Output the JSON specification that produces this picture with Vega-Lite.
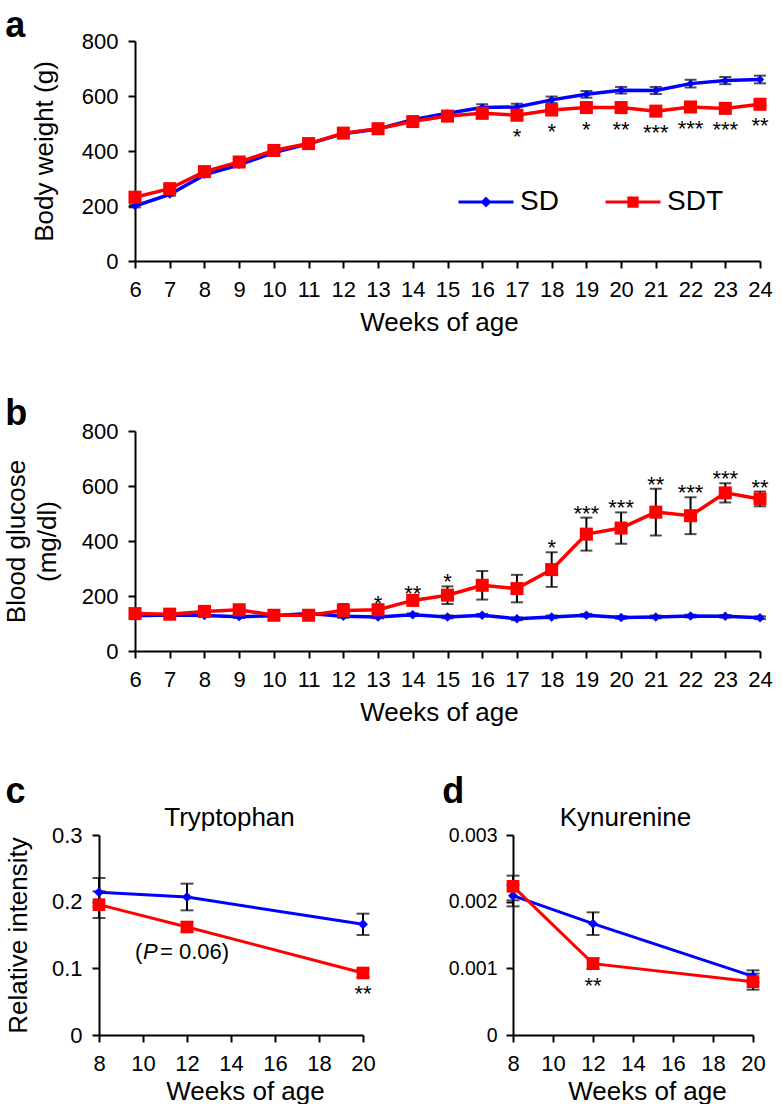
{
  "$schema": "https://vega.github.io/schema/vega-lite/v6.json",
  "padding": {"left": 3, "top": 8, "right": 0, "bottom": 0},
  "background": "white",
  "config": {
    "font": "Liberation Sans",
    "view": {"stroke": null},
    "axis": {"domainColor": "black", "domainWidth": 2, "tickColor": "black", "tickWidth": 2, "tickSize": 7, "labelFontSize": 22, "labelColor": "black", "labelFont": "Liberation Sans", "titleFont": "Liberation Sans", "titleFontSize": 26, "titleFontWeight": "normal", "titleColor": "black", "grid": false, "labelPadding": 10, "labelFlush": false, "labelOverlap": false},
    "axisY": {"titlePadding": 20},
    "axisX": {"titlePadding": 9, "labelPadding": 11},
    "title": {"fontSize": 36, "fontWeight": "bold", "color": "black", "font": "Liberation Sans"},
    "text": {"font": "Liberation Sans", "color": "black"}
  },
  "datasets": {
    "bw": [
      {"week": 6, "group": "SD", "value": 200, "lo": 195, "hi": 205, "sig": ""},
      {"week": 7, "group": "SD", "value": 242, "lo": 237, "hi": 247, "sig": ""},
      {"week": 8, "group": "SD", "value": 313, "lo": 308, "hi": 318, "sig": ""},
      {"week": 9, "group": "SD", "value": 350, "lo": 345, "hi": 355, "sig": ""},
      {"week": 10, "group": "SD", "value": 394, "lo": 389, "hi": 399, "sig": ""},
      {"week": 11, "group": "SD", "value": 426, "lo": 421, "hi": 431, "sig": ""},
      {"week": 12, "group": "SD", "value": 463, "lo": 457, "hi": 469, "sig": ""},
      {"week": 13, "group": "SD", "value": 480, "lo": 474, "hi": 486, "sig": ""},
      {"week": 14, "group": "SD", "value": 514, "lo": 507, "hi": 521, "sig": ""},
      {"week": 15, "group": "SD", "value": 537, "lo": 529, "hi": 545, "sig": ""},
      {"week": 16, "group": "SD", "value": 558, "lo": 546, "hi": 570, "sig": ""},
      {"week": 17, "group": "SD", "value": 560, "lo": 548, "hi": 572, "sig": ""},
      {"week": 18, "group": "SD", "value": 586, "lo": 574, "hi": 598, "sig": ""},
      {"week": 19, "group": "SD", "value": 606, "lo": 594, "hi": 618, "sig": ""},
      {"week": 20, "group": "SD", "value": 621, "lo": 609, "hi": 633, "sig": ""},
      {"week": 21, "group": "SD", "value": 620, "lo": 607, "hi": 633, "sig": ""},
      {"week": 22, "group": "SD", "value": 645, "lo": 631, "hi": 659, "sig": ""},
      {"week": 23, "group": "SD", "value": 656, "lo": 643, "hi": 669, "sig": ""},
      {"week": 24, "group": "SD", "value": 660, "lo": 646, "hi": 674, "sig": ""},
      {"week": 6, "group": "SDT", "value": 232, "lo": 225, "hi": 239, "sig": ""},
      {"week": 7, "group": "SDT", "value": 263, "lo": 256, "hi": 270, "sig": ""},
      {"week": 8, "group": "SDT", "value": 325, "lo": 318, "hi": 332, "sig": ""},
      {"week": 9, "group": "SDT", "value": 360, "lo": 353, "hi": 367, "sig": ""},
      {"week": 10, "group": "SDT", "value": 402, "lo": 395, "hi": 409, "sig": ""},
      {"week": 11, "group": "SDT", "value": 427, "lo": 420, "hi": 434, "sig": ""},
      {"week": 12, "group": "SDT", "value": 465, "lo": 458, "hi": 472, "sig": ""},
      {"week": 13, "group": "SDT", "value": 481, "lo": 474, "hi": 488, "sig": ""},
      {"week": 14, "group": "SDT", "value": 507, "lo": 499, "hi": 515, "sig": ""},
      {"week": 15, "group": "SDT", "value": 527, "lo": 519, "hi": 535, "sig": ""},
      {"week": 16, "group": "SDT", "value": 537, "lo": 529, "hi": 545, "sig": ""},
      {"week": 17, "group": "SDT", "value": 530, "lo": 521, "hi": 539, "sig": "*"},
      {"week": 18, "group": "SDT", "value": 549, "lo": 540, "hi": 558, "sig": "*"},
      {"week": 19, "group": "SDT", "value": 558, "lo": 549, "hi": 567, "sig": "*"},
      {"week": 20, "group": "SDT", "value": 558, "lo": 549, "hi": 567, "sig": "**"},
      {"week": 21, "group": "SDT", "value": 545, "lo": 536, "hi": 554, "sig": "***"},
      {"week": 22, "group": "SDT", "value": 560, "lo": 551, "hi": 569, "sig": "***"},
      {"week": 23, "group": "SDT", "value": 555, "lo": 546, "hi": 564, "sig": "***"},
      {"week": 24, "group": "SDT", "value": 570, "lo": 561, "hi": 579, "sig": "**"}
    ],
    "bg": [
      {"week": 6, "group": "SD", "value": 128, "lo": 123, "hi": 133, "sig": ""},
      {"week": 7, "group": "SD", "value": 131, "lo": 126, "hi": 136, "sig": ""},
      {"week": 8, "group": "SD", "value": 129, "lo": 124, "hi": 134, "sig": ""},
      {"week": 9, "group": "SD", "value": 125, "lo": 120, "hi": 130, "sig": ""},
      {"week": 10, "group": "SD", "value": 128, "lo": 123, "hi": 133, "sig": ""},
      {"week": 11, "group": "SD", "value": 136, "lo": 131, "hi": 141, "sig": ""},
      {"week": 12, "group": "SD", "value": 126, "lo": 121, "hi": 131, "sig": ""},
      {"week": 13, "group": "SD", "value": 124, "lo": 119, "hi": 129, "sig": ""},
      {"week": 14, "group": "SD", "value": 132, "lo": 127, "hi": 137, "sig": ""},
      {"week": 15, "group": "SD", "value": 124, "lo": 119, "hi": 129, "sig": ""},
      {"week": 16, "group": "SD", "value": 130, "lo": 125, "hi": 135, "sig": ""},
      {"week": 17, "group": "SD", "value": 117, "lo": 112, "hi": 122, "sig": ""},
      {"week": 18, "group": "SD", "value": 124, "lo": 119, "hi": 129, "sig": ""},
      {"week": 19, "group": "SD", "value": 130, "lo": 125, "hi": 135, "sig": ""},
      {"week": 20, "group": "SD", "value": 122, "lo": 117, "hi": 127, "sig": ""},
      {"week": 21, "group": "SD", "value": 124, "lo": 119, "hi": 129, "sig": ""},
      {"week": 22, "group": "SD", "value": 127, "lo": 122, "hi": 132, "sig": ""},
      {"week": 23, "group": "SD", "value": 126, "lo": 121, "hi": 131, "sig": ""},
      {"week": 24, "group": "SD", "value": 121, "lo": 116, "hi": 126, "sig": ""},
      {"week": 6, "group": "SDT", "value": 136, "lo": 130, "hi": 142, "sig": ""},
      {"week": 7, "group": "SDT", "value": 134, "lo": 129, "hi": 139, "sig": ""},
      {"week": 8, "group": "SDT", "value": 144, "lo": 138, "hi": 150, "sig": ""},
      {"week": 9, "group": "SDT", "value": 150, "lo": 144, "hi": 156, "sig": ""},
      {"week": 10, "group": "SDT", "value": 130, "lo": 125, "hi": 135, "sig": ""},
      {"week": 11, "group": "SDT", "value": 130, "lo": 125, "hi": 135, "sig": ""},
      {"week": 12, "group": "SDT", "value": 147, "lo": 123, "hi": 171, "sig": ""},
      {"week": 13, "group": "SDT", "value": 150, "lo": 142, "hi": 158, "sig": "*"},
      {"week": 14, "group": "SDT", "value": 184, "lo": 174, "hi": 194, "sig": "**"},
      {"week": 15, "group": "SDT", "value": 203, "lo": 171, "hi": 235, "sig": "*"},
      {"week": 16, "group": "SDT", "value": 239, "lo": 187, "hi": 291, "sig": ""},
      {"week": 17, "group": "SDT", "value": 227, "lo": 177, "hi": 277, "sig": ""},
      {"week": 18, "group": "SDT", "value": 296, "lo": 233, "hi": 359, "sig": "*"},
      {"week": 19, "group": "SDT", "value": 425, "lo": 365, "hi": 485, "sig": "***"},
      {"week": 20, "group": "SDT", "value": 447, "lo": 390, "hi": 504, "sig": "***"},
      {"week": 21, "group": "SDT", "value": 505, "lo": 420, "hi": 590, "sig": "**"},
      {"week": 22, "group": "SDT", "value": 492, "lo": 425, "hi": 559, "sig": "***"},
      {"week": 23, "group": "SDT", "value": 575, "lo": 540, "hi": 610, "sig": "***"},
      {"week": 24, "group": "SDT", "value": 553, "lo": 526, "hi": 580, "sig": "**"}
    ],
    "trp": [
      {"week": 8, "group": "SD", "value": 0.214, "lo": 0.1925, "hi": 0.2355, "sig": ""},
      {"week": 12, "group": "SD", "value": 0.207, "lo": 0.187, "hi": 0.227, "sig": ""},
      {"week": 20, "group": "SD", "value": 0.166, "lo": 0.150, "hi": 0.182, "sig": ""},
      {"week": 8, "group": "SDT", "value": 0.1955, "lo": 0.1755, "hi": 0.2155, "sig": ""},
      {"week": 12, "group": "SDT", "value": 0.162, "lo": 0.155, "hi": 0.169, "sig": ""},
      {"week": 20, "group": "SDT", "value": 0.093, "lo": 0.087, "hi": 0.099, "sig": "**"}
    ],
    "trp_note": [
      {"week": 12, "value": 0.162, "t1": "(", "t2": "P", "t3": "= 0.06)"}
    ],
    "kyn": [
      {"week": 8, "group": "SD", "value": 0.00209, "lo": 0.00193, "hi": 0.00225, "sig": ""},
      {"week": 12, "group": "SD", "value": 0.00167, "lo": 0.0015, "hi": 0.00184, "sig": ""},
      {"week": 20, "group": "SD", "value": 0.00088, "lo": 0.00079, "hi": 0.00097, "sig": ""},
      {"week": 8, "group": "SDT", "value": 0.00223, "lo": 0.00202, "hi": 0.00239, "sig": ""},
      {"week": 12, "group": "SDT", "value": 0.00107, "lo": 0.00099, "hi": 0.00115, "sig": "**"},
      {"week": 20, "group": "SDT", "value": 0.0008, "lo": 0.00068, "hi": 0.00092, "sig": ""}
    ]
  },
  "spacing": 49,
  "vconcat": [
    {
      "spacing": 61,
      "vconcat": [
        {
          "title": {"text": "a", "anchor": "start", "frame": "bounds", "dx": -26, "offset": -15},
          "width": 661,
          "height": 220,
          "data": {"name": "bw"},
          "layer": [
            {
              "mark": {"type": "errorbar", "ticks": true, "size": 12, "thickness": 2, "color": "black"},
              "encoding": {
                "x": {"field": "week", "type": "quantitative", "title": "Weeks of age", "scale": {"domain": [6, 24], "range": [36, 661], "nice": false, "zero": false}, "axis": {"values": [6,7,8,9,10,11,12,13,14,15,16,17,18,19,20,21,22,23,24], "titleX": 340, "labelOverlap": false}},
                "y": {"field": "lo", "type": "quantitative", "title": "Body weight (g)", "scale": {"domain": [0, 800], "nice": false}, "axis": {"values": [0, 200, 400, 600, 800], "offset": -36, "titlePadding": 24}},
                "y2": {"field": "hi"}
              }
            },
            {
              "mark": {"type": "line", "strokeWidth": 3.5},
              "encoding": {
                "x": {"field": "week", "type": "quantitative", "title": "Weeks of age", "axis": {"values": [6,7,8,9,10,11,12,13,14,15,16,17,18,19,20,21,22,23,24], "titleX": 340, "labelOverlap": false}},
                "y": {"field": "value", "type": "quantitative", "title": "Body weight (g)", "axis": {"values": [0, 200, 400, 600, 800], "offset": -36, "titlePadding": 24}},
                "detail": {"field": "group"},
                "color": {"condition": {"test": "datum.group === 'SD'", "value": "#0000ff"}, "value": "#ff0000"}
              }
            },
            {
              "mark": {"type": "point", "filled": true, "opacity": 1},
              "encoding": {
                "x": {"field": "week", "type": "quantitative", "title": "Weeks of age", "axis": {"values": [6,7,8,9,10,11,12,13,14,15,16,17,18,19,20,21,22,23,24], "titleX": 340, "labelOverlap": false}},
                "y": {"field": "value", "type": "quantitative", "title": "Body weight (g)", "axis": {"values": [0, 200, 400, 600, 800], "offset": -36, "titlePadding": 24}},
                "color": {"condition": {"test": "datum.group === 'SD'", "value": "#0000ff"}, "value": "#ff0000"},
                "shape": {"condition": {"test": "datum.group === 'SD'", "value": "diamond"}, "value": "square"},
                "size": {"condition": {"test": "datum.group === 'SD'", "value": 70}, "value": 170}
              }
            },
            {
              "transform": [{"filter": "datum.sig !== ''"}],
              "mark": {"type": "text", "fontSize": 22, "dy": 29, "baseline": "alphabetic"},
              "encoding": {
                "x": {"field": "week", "type": "quantitative", "title": "Weeks of age", "axis": {"values": [6,7,8,9,10,11,12,13,14,15,16,17,18,19,20,21,22,23,24], "titleX": 340, "labelOverlap": false}},
                "y": {"field": "value", "type": "quantitative", "title": "Body weight (g)", "axis": {"values": [0, 200, 400, 600, 800], "offset": -36, "titlePadding": 24}},
                "text": {"field": "sig"}
              }
            },
            {
              "mark": {"type": "point", "filled": true, "opacity": 0},
              "encoding": {
                "x": {"field": "week", "type": "quantitative", "title": "Weeks of age", "axis": {"values": [6,7,8,9,10,11,12,13,14,15,16,17,18,19,20,21,22,23,24], "titleX": 340, "labelOverlap": false}},
                "y": {"field": "value", "type": "quantitative", "title": "Body weight (g)", "axis": {"values": [0, 200, 400, 600, 800], "offset": -36, "titlePadding": 24}},
                "color": {"field": "group", "type": "nominal", "scale": {"domain": ["SD", "SDT"], "range": ["#0000ff", "#ff0000"]}, "legend": {"title": null, "orient": "none", "legendX": 358, "legendY": 132, "direction": "horizontal", "symbolSize": 3025, "symbolStrokeWidth": 3, "symbolOpacity": 1, "labelFontSize": 28, "labelColor": "black", "labelOffset": 5, "columnPadding": 40}},
                "stroke": {"field": "group", "type": "nominal", "scale": {"domain": ["SD", "SDT"], "range": ["#0000ff", "#ff0000"]}, "legend": {"title": null, "orient": "none", "legendX": 358, "legendY": 132, "direction": "horizontal", "symbolSize": 3025, "symbolStrokeWidth": 3, "symbolOpacity": 1, "labelFontSize": 28, "labelColor": "black", "labelOffset": 5, "columnPadding": 40}},
                "shape": {"field": "group", "type": "nominal", "scale": {"domain": ["SD", "SDT"], "range": ["M-1,0H1M0,-0.12L0.12,0L0,0.12L-0.12,0Z", "M-1,0H1M-0.15,-0.15H0.15V0.15H-0.15Z"]}, "legend": {"title": null, "orient": "none", "legendX": 358, "legendY": 132, "direction": "horizontal", "symbolSize": 3025, "symbolStrokeWidth": 3, "symbolOpacity": 1, "labelFontSize": 28, "labelColor": "black", "labelOffset": 5, "columnPadding": 40}}
              }
            }
          ]
        },
        {
          "title": {"text": "b", "anchor": "start", "frame": "bounds", "dx": 2, "offset": -13},
          "width": 661,
          "height": 220,
          "data": {"name": "bg"},
          "layer": [
            {
              "mark": {"type": "errorbar", "ticks": true, "size": 12, "thickness": 2, "color": "black"},
              "encoding": {
                "x": {"field": "week", "type": "quantitative", "title": "Weeks of age", "scale": {"domain": [6, 24], "range": [36, 661], "nice": false, "zero": false}, "axis": {"values": [6,7,8,9,10,11,12,13,14,15,16,17,18,19,20,21,22,23,24], "titleX": 340, "labelOverlap": false}},
                "y": {"field": "lo", "type": "quantitative", "title": ["Blood glucose", "(mg/dl)"], "scale": {"domain": [0, 800], "nice": false}, "axis": {"values": [0, 200, 400, 600, 800], "offset": -36, "titlePadding": 21, "titleLineHeight": 31}},
                "y2": {"field": "hi"}
              }
            },
            {
              "mark": {"type": "line", "strokeWidth": 3.5},
              "encoding": {
                "x": {"field": "week", "type": "quantitative", "title": "Weeks of age", "axis": {"values": [6,7,8,9,10,11,12,13,14,15,16,17,18,19,20,21,22,23,24], "titleX": 340, "labelOverlap": false}},
                "y": {"field": "value", "type": "quantitative", "title": ["Blood glucose", "(mg/dl)"], "axis": {"values": [0, 200, 400, 600, 800], "offset": -36, "titlePadding": 21, "titleLineHeight": 31}},
                "color": {"field": "group", "type": "nominal", "scale": {"domain": ["SD", "SDT"], "range": ["#0000ff", "#ff0000"]}, "legend": null}
              }
            },
            {
              "mark": {"type": "point", "filled": true, "opacity": 1},
              "encoding": {
                "x": {"field": "week", "type": "quantitative", "title": "Weeks of age", "axis": {"values": [6,7,8,9,10,11,12,13,14,15,16,17,18,19,20,21,22,23,24], "titleX": 340, "labelOverlap": false}},
                "y": {"field": "value", "type": "quantitative", "title": ["Blood glucose", "(mg/dl)"], "axis": {"values": [0, 200, 400, 600, 800], "offset": -36, "titlePadding": 21, "titleLineHeight": 31}},
                "color": {"field": "group", "type": "nominal", "legend": null},
                "shape": {"condition": {"test": "datum.group === 'SD'", "value": "diamond"}, "value": "square"},
                "size": {"condition": {"test": "datum.group === 'SD'", "value": 90}, "value": 170}
              }
            },
            {
              "transform": [{"filter": "datum.sig !== ''"}],
              "mark": {"type": "text", "fontSize": 22, "dy": 3, "baseline": "alphabetic"},
              "encoding": {
                "x": {"field": "week", "type": "quantitative", "title": "Weeks of age", "axis": {"values": [6,7,8,9,10,11,12,13,14,15,16,17,18,19,20,21,22,23,24], "titleX": 340, "labelOverlap": false}},
                "y": {"field": "hi", "type": "quantitative", "title": ["Blood glucose", "(mg/dl)"], "axis": {"values": [0, 200, 400, 600, 800], "offset": -36, "titlePadding": 21, "titleLineHeight": 31}},
                "text": {"field": "sig"}
              }
            }
          ]
        }
      ]
    },
    {
      "spacing": 66,
      "hconcat": [
        {
          "title": {"text": "c", "anchor": "start", "frame": "bounds", "offset": -7},
          "width": 264,
          "height": 200,
          "resolve": {"axis": {"x": "independent"}},
          "layer": [
            {
              "data": {"name": "trp"},
              "mark": {"type": "errorbar", "ticks": true, "size": 13, "thickness": 2, "color": "black"},
              "encoding": {
                "x": {"field": "week", "type": "quantitative", "scale": {"domain": [8, 20], "nice": false, "zero": false}, "axis": null},
                "y": {"field": "lo", "type": "quantitative", "title": "Relative intensity", "scale": {"domain": [0, 0.3], "nice": false}, "axis": {"values": [0, 0.1, 0.2, 0.3], "labelExpr": "datum.value === 0 ? '0' : format(datum.value, '.1f')"}},
                "y2": {"field": "hi"}
              }
            },
            {
              "data": {"name": "trp"},
              "mark": {"type": "line", "strokeWidth": 3},
              "encoding": {
                "x": {"field": "week", "type": "quantitative", "title": "Weeks of age", "axis": {"orient": "bottom", "values": [8, 10, 12, 14, 16, 18, 20], "titleX": 146, "titlePadding": 4, "labelOverlap": false}},
                "y": {"field": "value", "type": "quantitative", "title": "Relative intensity", "axis": {"values": [0, 0.1, 0.2, 0.3], "labelExpr": "datum.value === 0 ? '0' : format(datum.value, '.1f')"}},
                "color": {"field": "group", "type": "nominal", "scale": {"domain": ["SD", "SDT"], "range": ["#0000ff", "#ff0000"]}, "legend": null}
              }
            },
            {
              "data": {"name": "trp"},
              "mark": {"type": "point", "filled": true, "opacity": 1},
              "encoding": {
                "x": {"field": "week", "type": "quantitative", "axis": null},
                "y": {"field": "value", "type": "quantitative", "title": "Relative intensity", "axis": {"values": [0, 0.1, 0.2, 0.3], "labelExpr": "datum.value === 0 ? '0' : format(datum.value, '.1f')"}},
                "color": {"field": "group", "type": "nominal", "legend": null},
                "shape": {"condition": {"test": "datum.group === 'SD'", "value": "diamond"}, "value": "square"},
                "size": {"condition": {"test": "datum.group === 'SD'", "value": 100}, "value": 160}
              }
            },
            {
              "data": {"name": "trp"},
              "transform": [{"filter": "datum.sig !== ''"}],
              "mark": {"type": "text", "fontSize": 22, "dy": 28, "baseline": "alphabetic"},
              "encoding": {
                "x": {"field": "week", "type": "quantitative", "title": "Tryptophan", "axis": {"orient": "top", "labels": false, "ticks": false, "domain": false, "titlePadding": 5, "titleX": 130}},
                "y": {"field": "value", "type": "quantitative", "title": "Relative intensity", "axis": {"values": [0, 0.1, 0.2, 0.3], "labelExpr": "datum.value === 0 ? '0' : format(datum.value, '.1f')"}},
                "text": {"field": "sig"}
              }
            },
            {
              "data": {"name": "trp_note"},
              "mark": {"type": "text", "fontSize": 22, "dy": 25, "dx": -52, "align": "left", "baseline": "middle"},
              "encoding": {
                "x": {"field": "week", "type": "quantitative", "axis": null},
                "y": {"field": "value", "type": "quantitative", "title": "Relative intensity", "axis": {"values": [0, 0.1, 0.2, 0.3], "labelExpr": "datum.value === 0 ? '0' : format(datum.value, '.1f')"}},
                "text": {"field": "t1"}
              }
            },
            {
              "data": {"name": "trp_note"},
              "mark": {"type": "text", "fontSize": 22, "fontStyle": "italic", "dy": 25, "dx": -44, "align": "left", "baseline": "middle"},
              "encoding": {
                "x": {"field": "week", "type": "quantitative", "axis": null},
                "y": {"field": "value", "type": "quantitative", "title": "Relative intensity", "axis": {"values": [0, 0.1, 0.2, 0.3], "labelExpr": "datum.value === 0 ? '0' : format(datum.value, '.1f')"}},
                "text": {"field": "t2"}
              }
            },
            {
              "data": {"name": "trp_note"},
              "mark": {"type": "text", "fontSize": 22, "dy": 25, "dx": -27, "align": "left", "baseline": "middle"},
              "encoding": {
                "x": {"field": "week", "type": "quantitative", "axis": null},
                "y": {"field": "value", "type": "quantitative", "title": "Relative intensity", "axis": {"values": [0, 0.1, 0.2, 0.3], "labelExpr": "datum.value === 0 ? '0' : format(datum.value, '.1f')"}},
                "text": {"field": "t3"}
              }
            }
          ]
        },
        {
          "title": {"text": "d", "anchor": "start", "frame": "bounds", "dx": -6, "offset": -7},
          "width": 240,
          "height": 200,
          "data": {"name": "kyn"},
          "resolve": {"axis": {"x": "independent"}},
          "layer": [
            {
              "mark": {"type": "errorbar", "ticks": true, "size": 13, "thickness": 2, "color": "black"},
              "encoding": {
                "x": {"field": "week", "type": "quantitative", "scale": {"domain": [8, 20], "nice": false, "zero": false}, "axis": null},
                "y": {"field": "lo", "type": "quantitative", "title": null, "scale": {"domain": [0, 0.003], "nice": false}, "axis": {"values": [0, 0.001, 0.002, 0.003], "labelFontSize": 19.5, "labelPadding": 9, "labelExpr": "datum.value === 0 ? '0' : format(datum.value, '.3f')"}},
                "y2": {"field": "hi"}
              }
            },
            {
              "mark": {"type": "line", "strokeWidth": 3},
              "encoding": {
                "x": {"field": "week", "type": "quantitative", "title": "Weeks of age", "axis": {"orient": "bottom", "values": [8, 10, 12, 14, 16, 18, 20], "titleX": 134, "titlePadding": 4, "labelOverlap": false}},
                "y": {"field": "value", "type": "quantitative", "title": null, "axis": {"values": [0, 0.001, 0.002, 0.003], "labelFontSize": 19.5, "labelPadding": 9, "labelExpr": "datum.value === 0 ? '0' : format(datum.value, '.3f')"}},
                "color": {"field": "group", "type": "nominal", "scale": {"domain": ["SD", "SDT"], "range": ["#0000ff", "#ff0000"]}, "legend": null}
              }
            },
            {
              "mark": {"type": "point", "filled": true, "opacity": 1},
              "encoding": {
                "x": {"field": "week", "type": "quantitative", "axis": null},
                "y": {"field": "value", "type": "quantitative", "title": null, "axis": {"values": [0, 0.001, 0.002, 0.003], "labelFontSize": 19.5, "labelPadding": 9, "labelExpr": "datum.value === 0 ? '0' : format(datum.value, '.3f')"}},
                "color": {"field": "group", "type": "nominal", "legend": null},
                "shape": {"condition": {"test": "datum.group === 'SD'", "value": "diamond"}, "value": "square"},
                "size": {"condition": {"test": "datum.group === 'SD'", "value": 100}, "value": 160}
              }
            },
            {
              "transform": [{"filter": "datum.sig !== ''"}],
              "mark": {"type": "text", "fontSize": 22, "dy": 29, "baseline": "alphabetic"},
              "encoding": {
                "x": {"field": "week", "type": "quantitative", "title": "Kynurenine", "axis": {"orient": "top", "labels": false, "ticks": false, "domain": false, "titlePadding": 5, "titleX": 112}},
                "y": {"field": "value", "type": "quantitative", "title": null, "axis": {"values": [0, 0.001, 0.002, 0.003], "labelFontSize": 19.5, "labelPadding": 9, "labelExpr": "datum.value === 0 ? '0' : format(datum.value, '.3f')"}},
                "text": {"field": "sig"}
              }
            }
          ]
        }
      ]
    }
  ]
}
